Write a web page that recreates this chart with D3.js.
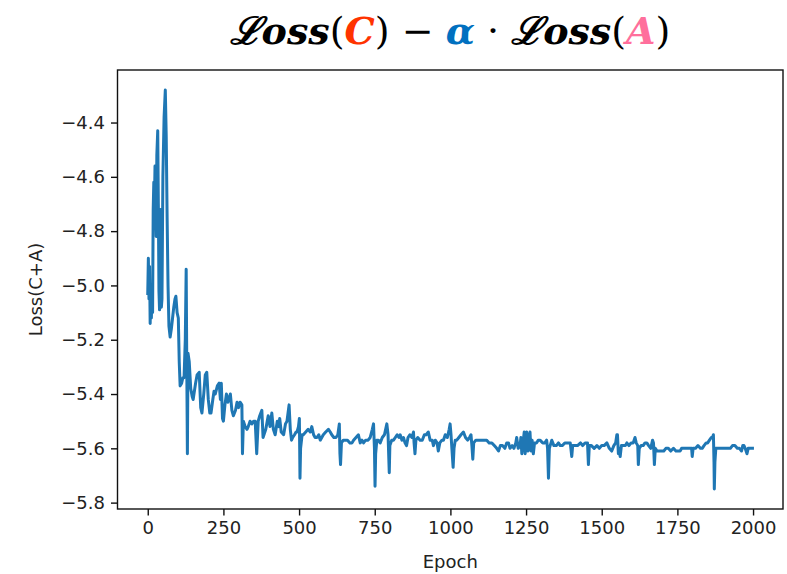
<!DOCTYPE html>
<meta charset="utf-8">
<style>
body{ margin:0; background:#fff }
.tick text{ font-family: "DejaVu Sans", sans-serif; font-size:18px; fill:#222 }
.axis-label{ font-family: "DejaVu Sans", sans-serif; font-size:18px; fill:#222 }
.title{ font-family: "DejaVu Serif", serif; font-size:38px; font-weight:bold; font-style:italic }
</style>
<body>
<script src="https://d3js.org/d3.v7.min.js"></script>
<script>

var width = 787,
    height = 574;

var margin = {top: 70, right: 4, bottom: 65, left: 117.5};

// training curve: epoch and Loss(C+A)
var epochs = [0,2,4,6,8,10,12,14,16,18,20,22,24,26,28,30,33,35,37,39,41,43,45,47,50,54,58,61,64,67,70,74,78,82,86,90,93,97,101,104,107,112,116,120,124,127,129,131,133,137,142,147,150,158,163,170,175,179,185,190,195,200,205,209,215,219,223,230,236,240,243,247,250,255,260,265,273,278,283,290,295,300,305,311,313,316,322,328,332,338,344,350,355,360,365,370,377,381,390,398,404,410,415,421,428,433,436,441,449,455,460,467,471,475,479,485,490,493,498,501,502,503,505,510,514,522,530,537,542,548,553,559,565,570,575,580,588,597,603,608,615,622,628,633,635,637,640,646,652,660,668,675,680,688,696,702,708,713,720,728,735,742,746,749,751,753,757,762,768,775,782,790,794,798,800,806,812,818,824,830,834,840,845,850,855,860,866,873,878,880,883,886,892,900,907,914,920,927,933,940,944,950,956,960,965,972,977,983,990,996,999,1002,1006,1009,1012,1016,1021,1028,1035,1043,1050,1057,1063,1068,1071,1074,1077,1084,1091,1098,1105,1112,1120,1128,1137,1145,1153,1159,1165,1172,1180,1186,1192,1197,1204,1210,1216,1219,1224,1230,1233,1236,1240,1244,1247,1250,1252,1256,1260,1263,1266,1270,1274,1278,1285,1290,1296,1305,1312,1318,1321,1324,1327,1335,1342,1350,1357,1363,1370,1378,1385,1392,1396,1401,1404,1412,1420,1430,1437,1445,1453,1456,1459,1466,1475,1484,1492,1500,1508,1517,1525,1533,1540,1546,1550,1552,1555,1558,1561,1565,1572,1578,1583,1590,1597,1604,1610,1614,1619,1621,1624,1630,1637,1643,1649,1655,1662,1668,1671,1674,1677,1683,1690,1698,1705,1712,1720,1728,1737,1745,1752,1759,1764,1770,1777,1785,1791,1797,1799,1802,1810,1818,1826,1832,1838,1845,1850,1856,1862,1866,1869,1871,1872,1874,1877,1882,1890,1898,1906,1912,1918,1925,1932,1940,1948,1955,1962,1966,1970,1974,1980,1984,1990,1998];

var loss = [-5.03,-4.90,-5.05,-4.93,-5.14,-5.00,-5.12,-5.02,-5.10,-4.72,-4.62,-4.70,-4.56,-4.70,-4.82,-4.52,-4.43,-4.70,-5.02,-5.09,-4.88,-4.72,-5.08,-5.05,-4.60,-4.38,-4.28,-4.45,-4.75,-5.00,-5.15,-5.19,-5.16,-5.12,-5.08,-5.05,-5.04,-5.10,-5.12,-5.28,-5.37,-5.36,-5.34,-5.34,-5.20,-4.94,-5.30,-5.62,-5.25,-5.28,-5.38,-5.41,-5.42,-5.36,-5.33,-5.32,-5.45,-5.47,-5.40,-5.33,-5.32,-5.42,-5.47,-5.47,-5.42,-5.39,-5.40,-5.37,-5.36,-5.42,-5.36,-5.49,-5.50,-5.44,-5.40,-5.43,-5.40,-5.46,-5.48,-5.46,-5.43,-5.45,-5.43,-5.44,-5.62,-5.50,-5.52,-5.53,-5.52,-5.50,-5.51,-5.50,-5.50,-5.62,-5.50,-5.48,-5.46,-5.56,-5.53,-5.48,-5.52,-5.47,-5.53,-5.55,-5.50,-5.52,-5.49,-5.54,-5.55,-5.51,-5.50,-5.44,-5.53,-5.57,-5.56,-5.55,-5.54,-5.54,-5.52,-5.49,-5.60,-5.71,-5.60,-5.55,-5.55,-5.54,-5.53,-5.54,-5.52,-5.55,-5.56,-5.56,-5.55,-5.57,-5.56,-5.55,-5.54,-5.53,-5.54,-5.55,-5.56,-5.56,-5.55,-5.51,-5.62,-5.66,-5.58,-5.57,-5.57,-5.57,-5.58,-5.58,-5.57,-5.56,-5.55,-5.58,-5.57,-5.58,-5.57,-5.57,-5.56,-5.53,-5.51,-5.60,-5.74,-5.62,-5.57,-5.57,-5.58,-5.56,-5.55,-5.51,-5.55,-5.69,-5.59,-5.57,-5.57,-5.56,-5.55,-5.56,-5.55,-5.57,-5.56,-5.58,-5.59,-5.56,-5.55,-5.56,-5.54,-5.58,-5.62,-5.57,-5.56,-5.57,-5.57,-5.55,-5.55,-5.54,-5.57,-5.57,-5.59,-5.57,-5.58,-5.61,-5.58,-5.57,-5.57,-5.55,-5.56,-5.53,-5.51,-5.55,-5.62,-5.67,-5.60,-5.57,-5.57,-5.56,-5.55,-5.54,-5.56,-5.57,-5.56,-5.55,-5.59,-5.64,-5.58,-5.57,-5.57,-5.57,-5.57,-5.57,-5.57,-5.58,-5.58,-5.59,-5.60,-5.61,-5.59,-5.59,-5.60,-5.58,-5.58,-5.60,-5.59,-5.60,-5.58,-5.56,-5.60,-5.59,-5.56,-5.62,-5.58,-5.54,-5.62,-5.55,-5.54,-5.61,-5.56,-5.54,-5.61,-5.57,-5.62,-5.58,-5.58,-5.57,-5.57,-5.58,-5.58,-5.57,-5.60,-5.71,-5.60,-5.57,-5.59,-5.59,-5.58,-5.59,-5.59,-5.58,-5.58,-5.58,-5.58,-5.63,-5.59,-5.59,-5.59,-5.58,-5.59,-5.58,-5.58,-5.66,-5.59,-5.59,-5.60,-5.59,-5.60,-5.59,-5.59,-5.58,-5.60,-5.61,-5.59,-5.58,-5.55,-5.55,-5.62,-5.60,-5.63,-5.59,-5.59,-5.59,-5.58,-5.59,-5.58,-5.58,-5.56,-5.58,-5.59,-5.66,-5.60,-5.59,-5.59,-5.58,-5.58,-5.59,-5.60,-5.57,-5.58,-5.66,-5.60,-5.61,-5.61,-5.61,-5.61,-5.60,-5.60,-5.61,-5.60,-5.61,-5.61,-5.61,-5.60,-5.60,-5.60,-5.60,-5.60,-5.60,-5.63,-5.60,-5.60,-5.59,-5.60,-5.60,-5.59,-5.58,-5.58,-5.57,-5.56,-5.56,-5.55,-5.65,-5.75,-5.65,-5.60,-5.60,-5.60,-5.60,-5.60,-5.60,-5.60,-5.60,-5.59,-5.59,-5.60,-5.60,-5.61,-5.59,-5.59,-5.60,-5.62,-5.60,-5.60,-5.60];

var xTicks = [0, 250, 500, 750, 1000, 1250, 1500, 1750, 2000];
var yTicks = [-4.4, -4.6, -4.8, -5.0, -5.2, -5.4, -5.6, -5.8];

var data = epochs.map((e, i) => ({epoch: e, loss: loss[i]}));

var svg = d3.select("body").append("svg")
    .attr("width", width)
    .attr("height", height);

// matplotlib style 5% margins round the data
var xe = [0, 1999], xm = (xe[1] - xe[0]) * 0.05;
var ye = d3.extent(loss), ym = (ye[1] - ye[0]) * 0.05;

var x = d3.scaleLinear()
    .domain([xe[0] - xm, xe[1] + xm])
    .range([margin.left, width - margin.right]);

var y = d3.scaleLinear()
    .domain([ye[0] - ym, ye[1] + ym])
    .range([height - margin.bottom, margin.top]);

var line = d3.line()
    .x(d => x(d.epoch))
    .y(d => y(d.loss));

svg.append("path")
    .datum(data)
    .attr("fill", "none")
    .attr("stroke", "#1f77b4")
    .attr("stroke-width", 3)
    .attr("stroke-linejoin", "round")
    .attr("stroke-linecap", "square")
    .attr("d", line);

var fmt = d => d3.format(".1f")(d).replace("-", "\u2212");

var xAxis = svg.append("g")
    .attr("transform", "translate(0," + (height - margin.bottom) + ")")
    .call(d3.axisBottom(x).tickValues(xTicks).tickSize(6.5).tickPadding(6).tickFormat(d3.format("d")));

var yAxis = svg.append("g")
    .attr("transform", "translate(" + margin.left + ",0)")
    .call(d3.axisLeft(y).tickValues(yTicks).tickSize(6.5).tickPadding(6).tickFormat(fmt));

[xAxis, yAxis].forEach(g => {
    g.select(".domain").remove();
    g.selectAll(".tick line").attr("stroke", "#111").attr("stroke-width", 1.4);
});

// frame
svg.append("rect")
    .attr("x", margin.left)
    .attr("y", margin.top)
    .attr("width", width - margin.right - margin.left)
    .attr("height", height - margin.bottom - margin.top)
    .attr("fill", "none")
    .attr("stroke", "#111")
    .attr("stroke-width", 1.4);

svg.append("text")
    .attr("class", "axis-label")
    .attr("x", (margin.left + width - margin.right) / 2)
    .attr("y", 568)
    .attr("text-anchor", "middle")
    .text("Epoch");

svg.append("text")
    .attr("class", "axis-label")
    .attr("transform", "translate(42," + ((margin.top + height - margin.bottom) / 2) + ") rotate(-90)")
    .attr("text-anchor", "middle")
    .text("Loss(C+A)");

// title
var title = svg.append("text")
    .attr("class", "title")
    .attr("x", 450)
    .attr("y", 44)
    .attr("text-anchor", "middle");

var parts = [
    {t: "\u2112oss", c: "#000"},
    {t: "(", c: "#000", up: true},
    {t: "C", c: "#ff3300"},
    {t: ")", c: "#000", up: true},
    {t: " \u2212 ", c: "#000", up: true},
    {t: "\u03b1", c: "#0070c0"},
    {t: " \u00b7 ", c: "#000", up: true},
    {t: "\u2112oss", c: "#000"},
    {t: "(", c: "#000", up: true},
    {t: "A", c: "#ff6f9c"},
    {t: ")", c: "#000", up: true}
];

title.selectAll("tspan")
    .data(parts)
  .enter().append("tspan")
    .attr("fill", d => d.c)
    .style("font-style", d => d.up ? "normal" : "italic")
    .style("font-weight", d => d.up ? "normal" : "bold")
    .text(d => d.t);
</script>
